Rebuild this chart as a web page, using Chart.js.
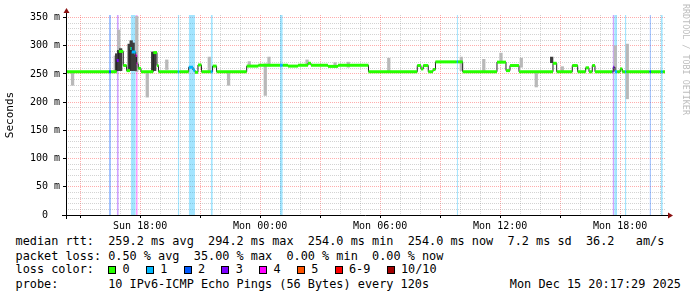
<!DOCTYPE html>
<html>
<head>
<meta charset="UTF-8">
<title>SmokePing - IPv6 ICMP</title>
<script src="https://cdn.jsdelivr.net/npm/chart.js"></script>
<style>
    body { margin: 0; background: #fff; width: 697px; height: 297px; overflow: hidden; position: relative; }
    #wrap { position: absolute; left: 0; top: 0; width: 697px; height: 232px; }
    .row {
        position: absolute; left: 15.5px;
        font-family: 'DejaVu Sans Mono', monospace; font-size: 11.85px;
        line-height: 14px; white-space: pre; color: #000;
    }
    .box { display: inline-block; width: 8px; height: 8px; box-sizing: border-box; border: 1px solid #000; vertical-align: -0.5px; margin-right: 6.4px; }
    .ent { margin-left: 16.2px; }
    .ent:first-child { margin-left: 0; }
    #mark {
        position: absolute; left: 681px; top: 4px;
        writing-mode: vertical-rl; font-family: 'DejaVu Sans Mono', monospace;
        font-size: 8.4px; color: #bdbdbd; white-space: pre;
    }
</style>
</head>
<body>
<div id="wrap"><canvas id="ping"></canvas></div>
<div id="mark">RRDTOOL / TOBI OETIKER</div>
<div class="row" style="top:234px">median rtt:  259.2 ms avg  294.2 ms max  254.0 ms min  254.0 ms now  7.2 ms sd  36.2   am/s</div>
<div class="row" style="top:248.5px">packet loss: 0.50 % avg  35.00 % max  0.00 % min  0.00 % now</div>
<div class="row" style="top:262.3px"><span>loss color:  </span><span id="lossKey"></span></div>
<div class="row" style="top:277px">probe:       10 IPv6-ICMP Echo Pings (56 Bytes) every 120s</div>
<div class="row" style="top:277px; left:auto; right:16px">Mon Dec 15 20:17:29 2025</div>

<script>
// time in hours since Sun 00:00, values in ms
const viewStart = 14.2914;   // Sun 14:17:29
const viewEnd = 44.2914;     // Mon 20:17:29

// median rtt (step changes)
const medHours = [14.29, 16.825, 16.925, 17.155, 17.32, 17.49, 17.575, 17.775, 17.825, 17.905, 18.04,
    18.655, 18.84, 18.915, 20.425, 20.64, 20.74, 20.89, 21.065, 21.62, 21.82, 23.325, 23.905,
    25.39, 25.89, 26.39, 26.54, 27.39, 27.89, 29.415, 31.855, 32.04, 32.155, 32.405, 32.64, 32.765,
    34.125, 35.84, 36.29, 36.49, 36.94, 38.64, 38.825, 39.605, 39.875, 40.275, 40.44, 40.605, 40.74,
    41.655, 41.74, 42.005, 42.105, 44.24];
const medMs = [254, 274, 290, 265, 256, 295, 289, 283, 268, 260, 254,
    288, 265, 254, 262, 257, 253, 266, 254, 264, 254, 264, 265.5,
    264, 265.5, 269, 265.5, 263.5, 265.5, 254, 265, 259, 265, 254, 258, 271.5,
    254, 271, 256, 265, 254, 269, 254, 265, 254, 261, 254, 265, 254,
    262, 254, 259, 254, 254];

// packet loss periods
const lossStart = [16.44, 16.83, 17.53, 17.78, 19.88, 20.43, 21.53, 24.99, 33.83, 41.62, 41.70, 42.24, 43.47, 44.03];
const lossEnd   = [16.54, 16.93, 17.78, 17.88, 19.96, 20.74, 21.63, 25.13, 33.89, 41.70, 41.85, 42.31, 43.54, 44.13];
const lossLevel = [2, 3, 1, 4, 1, 1, 1, 1, 1, 3, 1, 1, 2, 1];

// ping spread (smoke)
const smokeHours = [14.555, 16.69, 16.865, 17.765, 18.29, 19.265, 21.39, 22.355, 23.39, 24.19, 24.375,
    26.28, 27.68, 28.34, 30.365, 33.99, 35.115, 35.975, 36.99, 37.74, 39.04, 41.69, 42.29];
const smokeLo = [230, 256, 256, 254, 209, 258, 256, 230, 265, 212, 264,
    266, 262, 262, 256, 256, 256, 272, 262, 227, 256, 256, 206];
const smokeHi = [254, 282, 328, 352, 254, 275, 280, 253, 272, 268, 280,
    275, 270, 271, 278, 280, 276, 287, 278, 251, 263, 300, 303];

const denseHours = [16.89, 16.99, 17.09, 17.515, 17.615, 17.715, 17.815, 18.69, 18.79, 38.64];
const denseLo = [256, 256, 256, 256, 256, 256, 256, 256, 256, 270];
const denseHi = [286, 292, 295, 303, 309, 305, 283, 289, 286, 280];

const xLabelHours = [18, 24, 30, 36, 42];
const xLabelText = ['Sun 18:00', 'Mon 00:00', 'Mon 06:00', 'Mon 12:00', 'Mon 18:00'];
const yLabelValues = [0, 50, 100, 150, 200, 250, 300, 350];
const yLabelText = ['0  ', '50 m', '100 m', '150 m', '200 m', '250 m', '300 m', '350 m'];

const lossNames = ['0', '1', '2', '3', '4', '5', '6-9', '10/10'];
const lossColors = ['#26ff00', '#00b8ff', '#0059ff', '#7e00ff', '#ff00ff', '#ff5500', '#ff0000', '#a10000'];

const Y_TOP = 354.6;
const MONO = "'DejaVu Sans Mono', monospace";
const MAJOR = 'rgba(255,40,40,0.38)';
const MINOR = 'rgba(140,140,140,0.38)';

function levelAt(t) {
    for (let i = 0; i < lossStart.length; i++) {
        if (t >= lossStart[i] - 1e-9 && t < lossEnd[i] - 1e-9) return lossLevel[i];
    }
    return 0;
}
function medianAt(t) {
    let v = medMs[0];
    for (let i = 0; i < medHours.length; i++) if (medHours[i] <= t + 1e-9) v = medMs[i];
    return v;
}
function tint(hex, a) {
    const n = parseInt(hex.slice(1), 16);
    return `rgba(${n >> 16},${(n >> 8) & 255},${n & 255},${a})`;
}

// median band split into flat pieces so only the thin line shows the steps
const tEnd = medHours[medHours.length - 1];
const cuts = [...new Set([...medHours, ...lossStart, ...lossEnd])]
    .filter(t => t >= medHours[0] && t <= tEnd).sort((a, b) => a - b);
const band = [];
for (let i = 0; i < cuts.length - 1; i++) {
    const v = medianAt(cuts[i]);
    band.push({x: cuts[i], y: v}, {x: cuts[i + 1], y: v}, {x: cuts[i + 1], y: null});
}

// loss background columns
const lossSets = [];
[1, 2, 3, 4].forEach(lv => {
    const pts = [];
    lossStart.forEach((s, i) => {
        if (lossLevel[i] !== lv) return;
        pts.push({x: s, y: Y_TOP}, {x: lossEnd[i], y: Y_TOP}, {x: lossEnd[i], y: null});
    });
    lossSets.push({
        type: 'line', data: pts, fill: 'origin', borderWidth: 0,
        backgroundColor: tint(lossColors[lv], 0.36), spanGaps: false, order: 10
    });
});

// loss colour key
const key = document.getElementById('lossKey');
lossNames.forEach((n, i) => {
    const s = document.createElement('span');
    s.className = 'ent';
    s.innerHTML = `<span class="box" style="background:${lossColors[i]}"></span>${n}`;
    key.appendChild(s);
});

const axisArrows = {
    id: 'axisArrows',
    afterDraw(chart) {
        const {ctx, chartArea: a} = chart;
        const x0 = a.left + 0.5, y0 = a.bottom + 0.5;
        ctx.save();
        ctx.strokeStyle = '#000';
        ctx.lineWidth = 1;
        ctx.beginPath();
        ctx.moveTo(a.left - 4, y0); ctx.lineTo(a.right + 3, y0);
        ctx.moveTo(x0, a.bottom + 4); ctx.lineTo(x0, a.top - 3);
        ctx.stroke();
        ctx.fillStyle = '#8a1010';
        ctx.beginPath();
        ctx.moveTo(x0 - 3, a.top - 2); ctx.lineTo(x0 + 3, a.top - 2); ctx.lineTo(x0, a.top - 7);
        ctx.closePath(); ctx.fill();
        ctx.beginPath();
        ctx.moveTo(a.right + 2, y0 - 3); ctx.lineTo(a.right + 2, y0 + 3); ctx.lineTo(a.right + 7, y0);
        ctx.closePath(); ctx.fill();
        ctx.restore();
    }
};

new Chart(document.getElementById('ping'), {
    type: 'line',
    data: {
        datasets: [
            {
                data: band, borderColor: '#26ff00', borderWidth: 3, borderCapStyle: 'butt',
                spanGaps: false, order: 0,
                segment: { borderColor: c => lossColors[levelAt(c.p0.parsed.x)] }
            },
            {
                data: medHours.map((t, i) => ({x: t, y: medMs[i]})),
                borderColor: '#202020', borderWidth: 1, stepped: true, order: 1
            },
            {
                type: 'bar', data: denseHours.map((t, i) => ({x: t, y: [denseLo[i], denseHi[i]]})),
                backgroundColor: '#3c3c3c', barThickness: 2.6, order: 2
            },
            {
                type: 'bar', data: smokeHours.map((t, i) => ({x: t, y: [smokeLo[i], smokeHi[i]]})),
                backgroundColor: '#b9b9b9', barThickness: 2.6, order: 3
            },
            ...lossSets
        ]
    },
    options: {
        responsive: true,
        maintainAspectRatio: false,
        animation: false,
        events: [],
        layout: { padding: { left: 0, top: 15, right: 31, bottom: 0 } },
        elements: { point: { radius: 0 } },
        plugins: { legend: { display: false }, tooltip: { enabled: false } },
        scales: {
            x: {
                type: 'linear', min: viewStart, max: viewEnd, offset: false,
                afterFit: s => { s.height = 17; },
                afterBuildTicks: s => {
                    const t = [];
                    for (let h = Math.ceil(viewStart); h <= viewEnd; h++) t.push({value: h});
                    s.ticks = t;
                },
                grid: {
                    offset: false,
                    color: c => c.tick.value % 3 === 0 ? MAJOR : MINOR,
                    tickLength: 3,
                    tickColor: c => c.tick.value % 3 === 0 ? '#000' : 'rgba(0,0,0,0)'
                },
                border: { display: false, dash: [1, 1] },
                ticks: {
                    autoSkip: false, maxRotation: 0, padding: 2, color: '#000',
                    font: { family: MONO, size: 10 },
                    callback: v => {
                        const i = xLabelHours.indexOf(Math.round(v));
                        return i >= 0 ? xLabelText[i] : '';
                    }
                }
            },
            y: {
                min: 0, max: Y_TOP,
                afterFit: s => { s.width = 66; },
                afterBuildTicks: s => {
                    const t = [];
                    for (let v = 0; v <= 350; v += 10) t.push({value: v});
                    s.ticks = t;
                },
                grid: {
                    color: c => c.tick.value % 50 === 0 ? MAJOR : MINOR,
                    tickLength: 3,
                    tickColor: c => c.tick.value % 50 === 0 ? '#000' : 'rgba(0,0,0,0)'
                },
                border: { display: false, dash: [1, 1] },
                ticks: {
                    autoSkip: false, padding: 3, color: '#000',
                    font: { family: MONO, size: 10 },
                    callback: v => {
                        const i = yLabelValues.indexOf(v);
                        return i >= 0 ? yLabelText[i] : '';
                    }
                },
                title: {
                    display: true, text: 'Seconds', color: '#000',
                    font: { family: MONO, size: 11 }, padding: { top: 4, bottom: 0 }
                }
            }
        }
    },
    plugins: [axisArrows]
});
</script>
</body>
</html>
